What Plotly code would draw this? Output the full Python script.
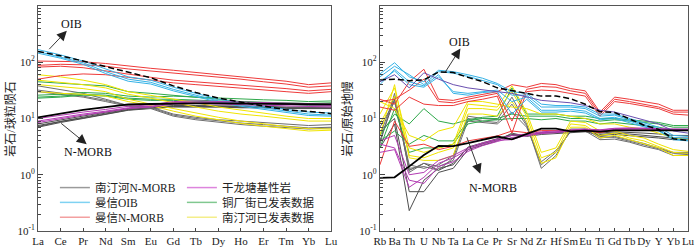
import plotly.graph_objects as go

# ---------------- categories ----------------
ree = ["La", "Ce", "Pr", "Nd", "Sm", "Eu", "Gd", "Tb", "Dy", "Ho", "Er", "Tm", "Yb", "Lu"]
spider = ["Rb", "Ba", "Th", "U", "Nb", "Ta", "La", "Ce", "Pr", "Sr", "Nd", "Zr",
          "Hf", "Sm", "Eu", "Ti", "Gd", "Tb", "Dy", "Y", "Yb", "Lu"]

# ---------------- reference curves ----------------
ree_oib = [156, 130, 105, 84, 68, 53, 38, 29, 23, 19.4, 16.4, 14.2, 13.4, 12.2]
ree_nmorb = [10.5, 12.2, 14.2, 16, 17.8, 18.1, 18.5, 18.6, 18.5, 18.3, 18.2, 18, 18, 17.8]
spd_oib = [48.8, 50.1, 47.1, 48.6, 67.3, 65.9, 53.9, 45.1, 35.1, 31.3, 28.4, 25, 25.2,
           22.5, 17.9, 13.2, 12.8, 9.7, 7.6, 6.4, 4.38, 4.05]
spd_nmorb = [0.88, 0.9, 1.41, 2.24, 3.27, 3.22, 3.64, 4.23, 4.78, 4.27, 5.39, 6.6, 6.63,
             5.92, 6.07, 5.85, 6.17, 6.2, 6.17, 6.15, 6.19, 6.15]

# ---------------- REE (chondrite normalised) samples ----------------
ree_nantinghe_nmorb = [
    [8, 9.5, 11, 13, 15, 16, 17, 17, 17, 16.5, 16.5, 16, 16, 16],
    [7.5, 9, 10.5, 12.5, 14.5, 15.5, 16.5, 16.5, 16.5, 16, 16, 15.5, 15.5, 15.5],
    [7, 8.5, 10, 12, 14, 15, 16, 16, 16, 15.5, 15.5, 15, 15, 15],
    [7.2, 8.8, 10.2, 12.2, 14.2, 15.3, 16.3, 16.2, 16.2, 15.8, 15.8, 15.3, 15.2, 15.3],
    [38, 33, 28, 22, 17, 16, 12, 10.5, 9.5, 9, 8.5, 8, 7.5, 7.8],
    [32, 28, 25, 21, 17, 15.5, 11.5, 10, 9, 8.3, 7.8, 7.2, 6.8, 7],
    [30, 27, 24, 20, 16.5, 15, 11, 9.5, 8.5, 7.8, 7.3, 6.9, 6.5, 6.8],
]
ree_manxin_oib = [
    [168, 135, 105, 75, 55, 48, 36, 28, 22, 19, 16.5, 14.5, 13, 12.5],
    [155, 125, 98, 68, 50, 44, 33, 26, 20.5, 17.5, 15.5, 13.5, 12, 11.5],
    [145, 118, 92, 63, 46, 41, 31, 24.5, 19.5, 16.5, 14.5, 12.8, 11.3, 11],
]
ree_manxin_nmorb = [
    [105, 105, 102, 95, 85, 78, 72, 66, 60, 55, 50, 46, 40, 43],
    [88, 92, 90, 85, 76, 70, 65, 60, 55, 50, 45, 41, 36, 38],
    [82, 85, 80, 70, 60, 54, 48, 45, 42, 39, 36, 34, 31, 33],
    [50, 58, 62, 60, 54, 48, 43, 40, 37, 35, 32, 30, 28, 30],
]
ree_ganlongtang = [
    [10, 11.5, 13, 14.5, 16.5, 17.5, 20, 20.5, 20, 19.5, 19, 18.5, 18, 18],
    [9, 10.5, 12, 13.5, 15.5, 16.5, 19, 19.5, 19, 18.5, 18, 17.5, 17, 17],
    [8.5, 10, 11.5, 13, 15, 16, 18, 18.5, 18, 17.5, 17, 16.5, 16, 16],
]
ree_tongchangjie = [
    [26, 27, 29, 28, 25, 24, 25, 24, 23, 22, 21.5, 21, 20, 20.5],
    [24, 25, 27, 26, 23, 22, 22, 21, 20.5, 20, 19.5, 19, 18.5, 19],
    [23, 24, 26, 25, 22, 21, 21, 20, 19.5, 19, 18.5, 18, 17.5, 18],
    [45, 42, 40, 38, 30, 28, 26, 24, 22, 20, 19, 18, 17, 17],
]
ree_nantinghe_pub = [
    [60, 55, 48, 40, 30, 26, 22, 19, 16, 14, 12.5, 11, 10, 10],
    [48, 44, 40, 35, 27, 23, 19, 16, 13.5, 12, 11, 9.8, 9, 9],
    [40, 37, 34, 30, 22, 18, 15, 12.5, 10.5, 9, 8, 7.2, 6.6, 6.5],
    [30, 28, 27, 25, 20, 17, 13.5, 11, 9.5, 8.2, 7.3, 6.6, 6, 6.2],
]

# ---------------- spider (primitive mantle normalised) samples ----------------
spd_nantinghe_nmorb = [
    [4, 22, 1.2, 1.6, 1.2, 1.6, 3, 3.6, 4.2, 5, 5, 5.5, 5.6, 5.8, 6, 5, 5.2, 5, 4.8, 4.5, 4.2, 4.2],
    [6, 10, 0.5, 0.5, 1.1, 1.3, 2.8, 3.4, 4, 5.5, 4.8, 5.2, 5.4, 5.6, 5.8, 5.2, 5.5, 5.3, 5, 4.8, 4.5, 4.5],
    [3, 8, 0.23, 0.8, 1.3, 1.5, 3.1, 3.7, 4.3, 5.2, 5.1, 5.6, 5.7, 6, 6.1, 5.5, 5.8, 5.7, 5.5, 5.3, 5, 5],
    [5, 25, 1.3, 1.4, 1.2, 2, 11, 10, 9.5, 24, 8, 1.3, 2.2, 6.5, 6.5, 4.5, 4.8, 4.2, 3.6, 3, 2.5, 2.5],
    [7, 20, 1.5, 1.3, 1.5, 2.2, 10, 9, 8.5, 18, 7.5, 1.5, 2.5, 6, 6.2, 4.8, 4.6, 4, 3.4, 2.9, 2.4, 2.4],
    [3.5, 28, 1.1, 1.6, 1.4, 1.8, 9, 8.5, 8, 13, 7, 1.7, 2.7, 5.8, 6, 4.2, 4.3, 3.8, 3.2, 2.8, 2.2, 2.3],
]
spd_manxin_oib = [
    [62, 98, 55, 45, 72, 68, 60, 52, 42, 30, 28, 18, 17, 17, 16, 12, 12, 10, 8.5, 7, 5, 4.8],
    [55, 85, 60, 40, 68, 64, 56, 48, 40, 26, 26, 16, 16, 16, 15, 11, 11.5, 9.5, 8, 6.5, 4.6, 4.4],
    [45, 70, 40, 36, 55, 30, 28, 30, 32, 20, 24, 14, 14, 14.5, 13.5, 10, 10.5, 9, 7.5, 6.2, 4.3, 4.1],
    [40, 75, 45, 38, 60, 28, 26, 29, 30, 12, 22, 13, 13, 13.5, 12.5, 9.5, 10, 8.5, 7, 6, 4.2, 4],
]
spd_manxin_nmorb = [
    [22, 18, 45, 75, 22, 21, 24, 27, 30, 40, 36, 42, 40, 34, 31, 13, 24, 22, 20, 18, 14, 14],
    [20, 22, 32, 50, 20, 19, 22, 25, 28, 9, 33, 37, 36, 31, 28, 12, 22, 20, 18, 16, 13, 13],
    [16, 14, 24, 18, 17, 17, 20, 22, 25, 5.5, 30, 32, 31, 28, 25, 11, 20, 18.5, 16.5, 15, 12, 11.5],
    [1.5, 9, 3.2, 3.5, 2.8, 3.2, 4, 4.4, 4.9, 6, 5.6, 6.1, 6.1, 6.1, 6.1, 5.6, 6.2, 6.2, 6.2, 6.1, 6.1, 6.1],
]
spd_ganlongtang = [
    [3.5, 3, 0.8, 0.7, 1.4, 1.7, 2.6, 3.3, 3.9, 4.6, 4.9, 5.4, 5.6, 6, 6.2, 6, 6.4, 6.5, 6.5, 6.4, 6.3, 6.3],
    [2.5, 2.8, 0.6, 0.9, 1.6, 2, 2.8, 3.5, 4.1, 4.2, 5.1, 5.6, 5.8, 6.2, 6.4, 6.2, 6.6, 6.7, 6.7, 6.5, 6.4, 6.4],
    [4, 5, 1.0, 1.1, 1.8, 2.2, 3, 3.7, 4.3, 5, 5.3, 5.8, 6, 6.3, 6.5, 6.3, 6.7, 6.8, 6.8, 6.6, 6.5, 6.5],
    [45, 60, 35, 65, 50, 40, 35, 32, 30, 28, 24, 21, 20, 19, 17, 14, 13, 11, 9.5, 8, 6, 5.5],
]
spd_tongchangjie = [
    [4, 6, 3.5, 5, 4, 4, 9, 10, 10, 12, 11, 11, 11, 10, 10, 9, 9.5, 9, 8.5, 8, 7, 7],
    [5, 12, 8, 15, 9, 8, 9.5, 10.5, 11, 35, 12, 12, 12, 11, 11, 10, 10, 9.5, 9, 8.5, 7.5, 7.5],
    [3, 15, 2.5, 3, 3, 3.5, 8, 9, 9.5, 10, 10, 9.5, 10, 9, 9, 8, 8.5, 8, 7.5, 7, 6.2, 6.2],
]
spd_nantinghe_pub = [
    [12, 35, 3, 2.5, 3, 3.5, 18, 17, 16, 38, 13, 2.5, 3, 9, 8.5, 6, 6, 5, 4.5, 3.5, 2.8, 2.6],
    [8, 25, 2.2, 2, 2.5, 3, 15, 15, 14, 30, 11, 2, 2.5, 8, 7.5, 5, 5.5, 4.5, 4, 3.2, 2.5, 2.4],
    [20, 15, 5, 4, 6, 7, 20, 20, 18, 16, 15, 12, 12, 11, 10, 8, 8, 7, 6.5, 5.5, 4.5, 4.3],
    [5, 40, 2, 1.8, 1.8, 2.2, 12, 12, 11, 20, 9, 1.6, 2, 7, 7, 4.5, 5, 4.2, 3.6, 3, 2.2, 2.2],
]

# ---------------- legend ----------------
legend_names = ["南汀河N-MORB", "曼信OIB", "曼信N-MORB", "干龙塘基性岩", "铜厂街已发表数据", "南汀河已发表数据"]
line_colors = ["#4d4d4d", "#35b2e6", "#ee3a3a", "#b23ab2", "#2ea84a", "#f0e400"]
legend_colors = ["#9a9a9a", "#7fd2f2", "#f3a0a0", "#dd85dd", "#80c890", "#f4ee8a"]

FONT = "Liberation Serif, Noto Sans CJK SC, serif"
W, H = 700, 252
ML, MR, MT, MB = 38, 8, 5, 19
PW, PH = W - ML - MR, H - MT - MB


def px(x, y):
    return (x - ML) / PW, (H - MB - y) / PH


fig = go.Figure()

groups_ree = [ree_nantinghe_nmorb, ree_manxin_oib, ree_manxin_nmorb,
              ree_ganlongtang, ree_tongchangjie, ree_nantinghe_pub]
groups_spd = [spd_nantinghe_nmorb, spd_manxin_oib, spd_manxin_nmorb,
              spd_ganlongtang, spd_tongchangjie, spd_nantinghe_pub]
draw_order = [0, 4, 5, 2, 1, 3]

for gi in draw_order:
    for k, vals in enumerate(groups_ree[gi]):
        col = line_colors[gi]
        if gi == 0 and k >= 4:
            col = "#6e6e6e"
        fig.add_trace(go.Scatter(x=ree, y=vals, mode="lines", xaxis="x", yaxis="y",
                                 line=dict(color=col, width=1), showlegend=False,
                                 hoverinfo="skip"))
    for k, vals in enumerate(groups_spd[gi]):
        col = line_colors[gi]
        if gi == 0 and k >= 3:
            col = "#6e6e6e"
        if gi == 3 and k == 3:
            col = "#6a4fb0"
        fig.add_trace(go.Scatter(x=spider, y=vals, mode="lines", xaxis="x2", yaxis="y2",
                                 line=dict(color=col, width=1), showlegend=False,
                                 hoverinfo="skip"))

# reference curves
fig.add_trace(go.Scatter(x=ree, y=ree_oib, mode="lines", xaxis="x", yaxis="y", showlegend=False,
                         line=dict(color="black", width=1.5, dash="6px,3px")))
fig.add_trace(go.Scatter(x=ree, y=ree_nmorb, mode="lines", xaxis="x", yaxis="y", showlegend=False,
                         line=dict(color="black", width=1.8)))
fig.add_trace(go.Scatter(x=spider, y=spd_oib, mode="lines", xaxis="x2", yaxis="y2", showlegend=False,
                         line=dict(color="black", width=1.5, dash="6px,3px")))
fig.add_trace(go.Scatter(x=spider, y=spd_nmorb, mode="lines", xaxis="x2", yaxis="y2", showlegend=False,
                         line=dict(color="black", width=1.8)))

# legend entries: three rows (one horizontal legend per row), two columns
row_legend = ["legend", "legend2", "legend3"]
for row in range(3):
    for col in range(2):
        i = row + 3 * col
        fig.add_trace(go.Scatter(x=[None], y=[None], mode="lines", name=legend_names[i],
                                 xaxis="x", yaxis="y", showlegend=True, legend=row_legend[row],
                                 legendwidth=82 if col == 0 else 115,
                                 line=dict(color=legend_colors[i], width=1.5)))

minor_vals = [m * 10 ** e for e in range(-1, 3) for m in range(2, 10)]
ytick_vals = [0.1, 1, 10, 100, 1000]
ytick_text = ["10<sup>-1</sup>", "10<sup>0</sup>", "10<sup>1</sup>", "10<sup>2</sup>", "10<sup>3</sup>"]

yax = dict(type="log", range=[-1, 3], tickmode="array", tickvals=ytick_vals, ticktext=ytick_text,
           ticks="inside", ticklen=5, tickcolor="#444", showgrid=False, zeroline=False,
           showline=True, linecolor="#555", linewidth=1, mirror=True,
           tickfont=dict(family=FONT, size=11, color="#222"),
           minor=dict(tickmode="array", tickvals=minor_vals, ticks="inside", ticklen=3,
                      tickcolor="#444", showgrid=False))
xax = dict(type="category", ticks="inside", ticklen=3, tickcolor="#444", showgrid=False,
           showline=True, linecolor="#555", linewidth=1, mirror=True, tickangle=0,
           tickfont=dict(family=FONT, size=11, color="#222"), zeroline=False)

x1r, _ = px(333, 0)
x2l, _ = px(382, 0)

leg_common = dict(orientation="h", xanchor="left", yanchor="middle", bgcolor="rgba(0,0,0,0)",
                  font=dict(family=FONT, size=11.5, color="#222"),
                  itemwidth=30, borderwidth=0, entrywidthmode="pixels",
                  x=px(55, 0)[0])

fig.update_layout(
    width=W, height=H, margin=dict(l=ML, r=MR, t=MT, b=MB),
    paper_bgcolor="white", plot_bgcolor="white",
    font=dict(family=FONT, size=12, color="#222"),
    xaxis=dict(xax, domain=[0, x1r], range=[0, len(ree) - 1], anchor="y"),
    yaxis=dict(yax, domain=[0, 1], anchor="x"),
    xaxis2=dict(xax, domain=[x2l, 1], range=[0, len(spider) - 1], anchor="y2"),
    yaxis2=dict(yax, domain=[0, 1], anchor="x2"),
    legend=dict(leg_common, y=px(0, 189)[1]),
    legend2=dict(leg_common, y=px(0, 204)[1]),
    legend3=dict(leg_common, y=px(0, 219)[1]),
    showlegend=True,
)

annos = []
# axis titles
for (xx, yy, txt) in [(10, 120, "岩石/球粒陨石"), (349, 120, "岩石/原始地幔")]:
    ax_, ay_ = px(xx, yy)
    annos.append(dict(x=ax_, y=ay_, xref="paper", yref="paper", text=txt, showarrow=False,
                      xanchor="center", yanchor="middle",
                      textangle=-90, font=dict(family=FONT, size=12, color="#222")))
# labels
for (xx, yy, txt) in [(72, 23, "OIB"), (88, 153, "N-MORB"), (462, 41, "OIB"), (496, 189, "N-MORB")]:
    ax_, ay_ = px(xx, yy)
    annos.append(dict(x=ax_, y=ay_, xref="paper", yref="paper", text=txt, showarrow=False,
                      xanchor="center", yanchor="middle",
                      font=dict(family=FONT, size=12, color="#111")))
# arrows (head, tail in pixels)
for (hx, hy, tx, ty) in [(67, 30, 48, 50), (87, 145, 60, 123), (463, 48, 447, 73), (483, 175, 469, 137)]:
    ax_, ay_ = px(hx, hy)
    annos.append(dict(x=ax_, y=ay_, xref="paper", yref="paper", text="", showarrow=True,
                      ax=tx - hx, ay=ty - hy, axref="pixel", ayref="pixel",
                      arrowhead=2, arrowsize=2.2, arrowwidth=0.9, arrowcolor="#222"))
fig.update_layout(annotations=annos)

fig.write_html("out.html", config={"displayModeBar": False},
               post_script="document.body.style.margin='0px';")
